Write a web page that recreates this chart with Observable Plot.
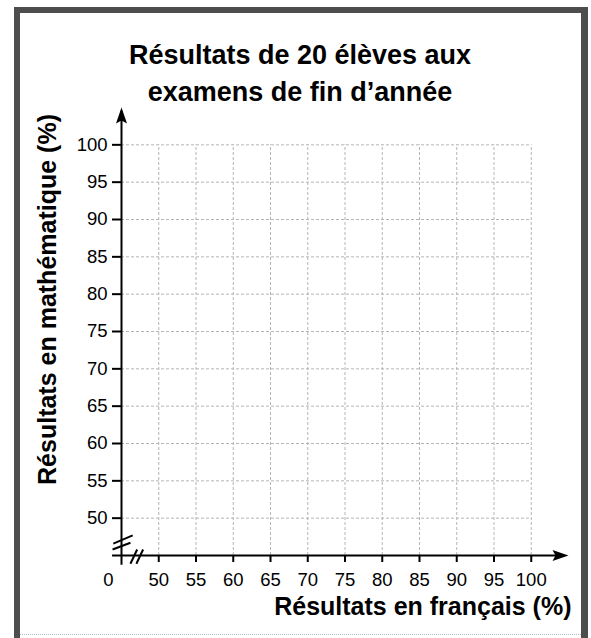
<!DOCTYPE html>
<html>
<head>
<meta charset="utf-8">
<script src="https://cdn.jsdelivr.net/npm/d3@7"></script>
<script src="https://cdn.jsdelivr.net/npm/@observablehq/plot@0.6"></script>
<style>
  html, body { margin: 0; padding: 0; background: #fff; }
  #wrap { position: relative; width: 591px; height: 638px; overflow: hidden; }
  #border { position: absolute; left: 14px; top: 7px; width: 561px; height: 640px;
            border-left: 6px solid #4d4d4d; border-top: 6px solid #4d4d4d; border-right: 7px solid #4d4d4d;
            box-sizing: content-box; pointer-events: none; }
  #bottomline { position: absolute; left: 20px; top: 634px; width: 561px; border-top: 1px dotted #bbb; }
  #chart { position: absolute; left: 0; top: 0; }
</style>
</head>
<body>
<div id="wrap">
  <div id="chart"></div>
  <div id="border"></div>
  <div id="bottomline"></div>
</div>
<script>
// ---- Data ----
const titleText = "Résultats de 20 élèves aux\nexamens de fin d’année";
const xLabel = "Résultats en français (%)";
const yLabel = "Résultats en mathématique (%)";
const xTicks = [50, 55, 60, 65, 70, 75, 80, 85, 90, 95, 100];
const yTicks = [50, 55, 60, 65, 70, 75, 80, 85, 90, 95, 100];
const zeroLabel = "0";
const axisOrigin = 45;   // where the broken axes meet (data units)
const axisEnd = 105;     // arrow tips

// break marks (data units)
const breakMarks = [
  {x1: 43.9, y1: 46.6, x2: 46.5, y2: 47.7},
  {x1: 43.8, y1: 45.8, x2: 46.2, y2: 46.7},
  {x1: 46.2, y1: 43.9, x2: 47.1, y2: 45.8},
  {x1: 47.0, y1: 43.9, x2: 47.9, y2: 45.8}
];

const upArrow = {draw(ctx) { ctx.moveTo(0, 0); ctx.lineTo(5.5, 16); ctx.lineTo(0, 13); ctx.lineTo(-5.5, 16); ctx.closePath(); }};
const rightArrow = {draw(ctx) { ctx.moveTo(0, 0); ctx.lineTo(-16, -5.5); ctx.lineTo(-13, 0); ctx.lineTo(-16, 5.5); ctx.closePath(); }};

const font = "'Liberation Sans', Arial, Helvetica, sans-serif";

const chart = Plot.plot({
  width: 591,
  height: 638,
  marginLeft: 121,
  marginRight: 23,
  marginTop: 107,
  marginBottom: 83,
  x: {domain: [axisOrigin, axisEnd], axis: null},
  y: {domain: [axisOrigin, axisEnd], axis: null},
  style: {fontFamily: font, background: "transparent", overflow: "visible", color: "black"},
  marks: [
    // grid
    Plot.ruleX(xTicks, {y1: axisOrigin, y2: 100, stroke: "#b5b5b5", strokeWidth: 1, strokeDasharray: "3,2"}),
    Plot.ruleY(yTicks, {x1: axisOrigin, x2: 100, stroke: "#b5b5b5", strokeWidth: 1, strokeDasharray: "3,2"}),
    // axes lines
    Plot.ruleX([axisOrigin], {y1: 43.7, y2: axisEnd - 0.5, stroke: "black", strokeWidth: 2}),
    Plot.ruleY([axisOrigin], {x1: 43.8, x2: axisEnd - 0.5, stroke: "black", strokeWidth: 2}),
    Plot.dot([axisOrigin], {x: d => d, y: () => axisEnd, symbol: upArrow, fill: "black", stroke: "none"}),
    Plot.dot([axisOrigin], {x: () => axisEnd, y: d => d, symbol: rightArrow, fill: "black", stroke: "none"}),
    // break marks
    Plot.link(breakMarks, {x1: "x1", y1: "y1", x2: "x2", y2: "y2", stroke: "black", strokeWidth: 2}),
    // ticks & tick labels
    Plot.axisX(xTicks, {anchor: "bottom", tickSize: 7, tickPadding: 10, fontSize: 18.5, strokeWidth: 2, stroke: "black", fill: "black", label: null}),
    Plot.axisY(yTicks, {anchor: "left", tickSize: 9, tickPadding: 5, fontSize: 18.5, strokeWidth: 2, stroke: "black", fill: "black", label: null}),
    Plot.text([zeroLabel], {x: () => axisOrigin, y: () => axisOrigin, dx: -13, dy: 25, fontSize: 18.5, fill: "black"}),
    // axis labels
    Plot.text([xLabel], {frameAnchor: "bottom-right", textAnchor: "end", dx: 3, dy: 59, fontSize: 25, fontWeight: "bold", fill: "black"}),
    Plot.text([yLabel], {frameAnchor: "left", textAnchor: "middle", rotate: -90, dx: -74, dy: -32, fontSize: 25, fontWeight: "bold", fill: "black"}),
    // title
    Plot.text([titleText], {frameAnchor: "top", lineAnchor: "top", dx: -45, dy: -70, fontSize: 27, fontWeight: "bold", lineHeight: 1.37, fill: "black"})
  ]
});
document.getElementById("chart").appendChild(chart);
</script>
</body>
</html>
